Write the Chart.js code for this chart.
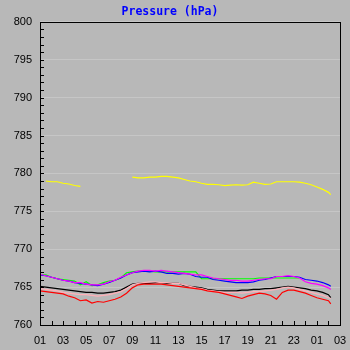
<!DOCTYPE html>
<html>
<head>
<meta charset="utf-8">
<script src="https://cdn.jsdelivr.net/npm/chart.js@4/dist/chart.umd.min.js"></script>
<style>
  html, body { margin: 0; padding: 0; background: #b8b8b8; }
  #wrap { width: 350px; height: 350px; }
</style>
</head>
<body>
<div id="wrap"><canvas id="pressChart" width="350" height="350"></canvas></div>
<script>
// day offsets from the first label (0 = "01")
const days = [0, 0.5, 1, 1.5, 2, 2.5, 3, 3.5, 4, 4.5, 5, 5.5, 6, 6.5, 7, 7.5, 8, 8.5, 9, 9.5,
  10, 10.5, 11, 11.5, 12, 12.5, 13, 13.5, 14, 14.5, 15, 15.5, 16, 16.5, 17, 17.5, 18, 18.5, 19, 19.5,
  20, 20.5, 21, 21.5, 22, 22.5, 23, 23.5, 24, 24.5, 25, 25.2];

const dayLabels = ['01', '03', '05', '07', '09', '11', '13', '15', '17', '19', '21', '23', '01', '03'];
const yTicks = [760, 765, 770, 775, 780, 785, 790, 795, 800];

const yellow = [null, 779.0, 778.9, 778.9, 778.7, 778.6, 778.4, 778.3, null, null,
  null, null, null, null, null, null, 779.5, 779.4, 779.4, 779.5,
  779.5, 779.6, 779.6, 779.5, 779.4, 779.2, 779.0, 778.9, 778.7, 778.55,
  778.55, 778.5, 778.4, 778.45, 778.5, 778.45, 778.5, 778.85, 778.7, 778.55,
  778.6, 778.9, 778.9, 778.9, 778.9, 778.85, 778.7, 778.5, 778.2, 777.9, 777.5, 777.2];

const green = [766.6, 766.6, 766.3, 766.1, 766.0, 765.9, 765.8, 765.3, 765.7, 765.2,
  765.3, 765.6, 765.8, 765.9, 766.2, 766.9, 767.0, 767.1, 767.1, 767.1,
  767.0, 767.0, 767.0, 767.0, 767.0, 767.0, 767.0, 767.0, 766.1, 766.1,
  766.1, 766.1, 766.1, 766.1, 766.1, 766.1, 766.1, 766.1, 766.2, 766.2,
  766.2, 766.2, 766.2, 766.2, 766.2, 766.2, null, null, null, null, null, null];

const blue = [766.6, 766.5, 766.3, 766.1, 765.9, 765.8, 765.6, 765.5, 765.4, 765.3,
  765.2, 765.4, 765.6, 765.9, 766.2, 766.6, 766.9, 767.0, 767.1, 767.0,
  767.1, 767.0, 766.8, 766.8, 766.7, 766.8, 766.7, 766.4, 766.3, 766.3,
  766.0, 765.9, 765.8, 765.7, 765.6, 765.6, 765.6, 765.7, 765.9, 766.0,
  766.2, 766.4, 766.4, 766.4, 766.4, 766.3, 766.0, 765.9, 765.8, 765.6, 765.3, 765.1];

const magenta = [766.7, 766.5, 766.3, 766.1, 765.9, 765.8, 765.6, 765.6, 765.4, 765.3,
  765.3, 765.4, 765.7, 765.9, 766.3, 766.6, 766.9, 767.1, 767.2, 767.2,
  767.1, 767.2, 767.1, 767.0, 766.9, 766.8, 766.7, 766.6, 766.6, 766.4,
  766.2, 766.1, 766.0, 765.9, 765.9, 765.8, 765.8, 765.9, 766.0, 766.1,
  766.1, 766.4, 766.4, 766.5, 766.4, 766.2, 765.7, 765.5, 765.4, 765.2, 764.9, 764.7];

const black = [765.1, 765.0, 764.9, 764.8, 764.7, 764.6, 764.5, 764.4, 764.3, 764.3,
  764.2, 764.2, 764.3, 764.4, 764.6, 765.0, 765.4, 765.5, 765.5, 765.5,
  765.6, 765.6, 765.5, 765.5, 765.5, 765.2, 765.1, 765.0, 764.9, 764.7,
  764.6, 764.5, 764.5, 764.5, 764.5, 764.6, 764.6, 764.7, 764.7, 764.8,
  764.8, 764.9, 765.0, 765.1, 765.0, 764.9, 764.8, 764.6, 764.5, 764.3, 764.0, 763.6];

const pink = [764.8, 764.7, 764.6, 764.5, 764.3, 764.2, 764.1, 764.0, 764.0, 763.9,
  763.8, 763.9, 764.0, 764.2, 764.4, 764.8, 765.3, 765.5, 765.6, 765.7,
  765.7, 765.6, 765.6, 765.5, 765.5, 765.3, 765.1, 764.9, 764.8, 764.6,
  764.5, 764.4, 764.3, 764.3, 764.3, 764.2, 764.3, 764.4, 764.4, 764.5,
  764.6, 764.7, 764.9, 765.0, 764.9, 764.7, 764.5, 764.3, 764.1, 763.9, 763.6, 763.5];

const red = [764.5, 764.4, 764.3, 764.2, 764.1, 763.8, 763.6, 763.2, 763.3, 762.9,
  763.1, 763.0, 763.2, 763.4, 763.7, 764.2, 764.9, 765.3, 765.4, 765.4,
  765.4, 765.4, 765.3, 765.2, 765.1, 765.0, 764.9, 764.8, 764.7, 764.5,
  764.4, 764.3, 764.1, 763.9, 763.7, 763.5, 763.8, 764.0, 764.2, 764.1,
  763.9, 763.4, 764.3, 764.6, 764.6, 764.4, 764.2, 763.9, 763.6, 763.4, 763.2, 762.8];

function pts(vals) {
  return days.map((d, i) => ({ x: d, y: vals[i] }));
}

function series(vals, color) {
  return {
    data: pts(vals),
    borderColor: color,
    borderWidth: 1.2,
    pointRadius: 0,
    tension: 0,
    spanGaps: false,
    fill: false
  };
}

// black frame plus the small inside ticks
const frame = {
  id: 'frame',
  afterDraw(chart) {
    const { ctx, chartArea: a, scales: { x, y } } = chart;
    ctx.save();
    ctx.strokeStyle = '#000';
    ctx.lineWidth = 1;
    ctx.strokeRect(Math.round(a.left) + 0.5, Math.round(a.top) + 0.5,
      Math.round(a.right - a.left), Math.round(a.bottom - a.top));
    ctx.beginPath();
    for (let v = y.min; v <= y.max; v++) {
      const py = Math.round(y.getPixelForValue(v)) + 0.5;
      ctx.moveTo(a.left, py);
      ctx.lineTo(a.left + 4, py);
    }
    for (let d = x.min; d <= x.max; d++) {
      const px = Math.round(x.getPixelForValue(d)) + 0.5;
      ctx.moveTo(px, a.bottom);
      ctx.lineTo(px, a.bottom - 4);
    }
    ctx.stroke();
    ctx.restore();
  }
};

new Chart(document.getElementById('pressChart'), {
  type: 'line',
  data: {
    datasets: [
      series(magenta, '#ff00ff'),
      series(blue, '#0000ff'),
      series(green, '#00ff00'),
      series(red, '#ff0000'),
      series(pink, '#ffb0b8'),
      series(black, '#000000'),
      series(yellow, '#ffff00')
    ]
  },
  options: {
    responsive: false,
    animation: false,
    layout: { padding: { left: 0, right: 10, top: 0, bottom: 0 } },
    plugins: {
      legend: { display: false },
      tooltip: { enabled: false },
      title: {
        display: true,
        text: 'Pressure (hPa)',
        color: '#0000ff',
        font: { family: 'DejaVu Sans Mono', size: 11.5, weight: 'bold' },
        padding: { top: 5, bottom: 3 }
      }
    },
    scales: {
      x: {
        type: 'linear',
        min: 0,
        max: 26,
        border: { display: false },
        grid: { display: false, drawTicks: false },
        afterFit(scale) {
          scale.height = 25;
          scale.paddingLeft = 0;
          scale.paddingRight = 0;
        },
        ticks: {
          stepSize: 2,
          padding: 9,
          color: '#000',
          font: { family: 'Liberation Sans', size: 11 },
          maxRotation: 0,
          autoSkip: false,
          callback: (v) => dayLabels[v / 2]
        }
      },
      y: {
        min: 760,
        max: 800,
        border: { display: false },
        grid: { color: '#c6c6c6', drawTicks: false },
        afterFit(scale) {
          scale.width = 40;
          scale.paddingTop = 0;
          scale.paddingBottom = 0;
        },
        afterBuildTicks(scale) { scale.ticks = yTicks.map(v => ({ value: v })); },
        ticks: {
          padding: 8,
          color: '#000',
          font: { family: 'Liberation Sans', size: 11 }
        }
      }
    }
  },
  plugins: [frame]
});
</script>
</body>
</html>
